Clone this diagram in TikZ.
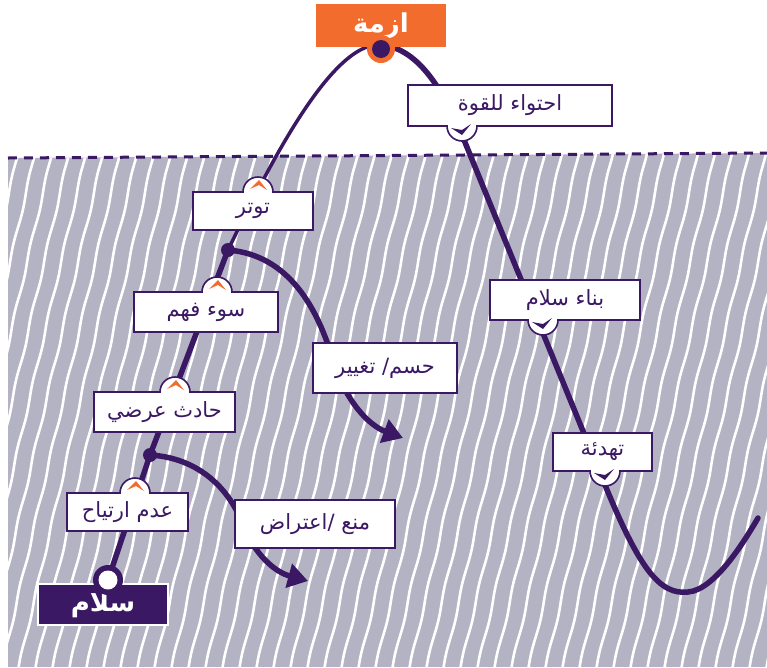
\documentclass[tikz,border=0pt]{standalone}
\usepackage{fontspec}
\usetikzlibrary{arrows.meta,decorations.pathmorphing}
\TeXXeTstate=1
\newfontfamily\arabicfont[Script=Arabic]{DejaVu Sans}
\definecolor{plum}{HTML}{3B1864}
\definecolor{flame}{HTML}{F26D2D}
\definecolor{haze}{HTML}{B3B3C4}
\newcommand{\rtl}[1]{\raisebox{-2.5pt}{\beginR #1\endR}}
\tikzset{
  tagbox/.style={draw=plum, line width=1.6pt, fill=white, text=plum, inner sep=0pt,
    font=\arabicfont\fontsize{21}{24}\selectfont},
  bump/.style={draw=plum, line width=1.6pt, fill=white},
  seam/.style={white, line width=2.6pt},
  spine/.style={plum, line width=5.5pt, line cap=round},
  thinspine/.style={plum, line width=3.5pt, line cap=round},
  branch/.style={plum, line width=5.5pt, line cap=round, -{Triangle[length=20pt,width=24pt]}},
  stripe/.style={white, line width=2.6pt, decorate,
    decoration={snake, amplitude=0.8pt, segment length=70pt}},
  upmark/.style={fill=flame},
  downmark/.style={fill=plum},
}
\begin{document}
\begin{tikzpicture}[x=1pt, y=-1pt]
\useasboundingbox (0,0) rectangle (767,667);

% hatched lower zone
\begin{scope}
  \clip (8,158) -- (767,153) -- (767,667) -- (8,667) -- cycle;
  \fill[haze] (0,140) rectangle (767,667);
  \foreach \i in {-9,...,46}
    \draw[stripe] (\i*17, 675) -- (\i*17+122, 145);
\end{scope}
\draw[plum, line width=3pt, dash pattern=on 9pt off 7pt] (8,158) -- (767,153);

% key points of the path
\coordinate (peace) at (108,580);
\coordinate (forkB) at (150,455);
\coordinate (forkA) at (228,250);
\coordinate (peak)  at (381,45);
\coordinate (down)  at (462,135);
\coordinate (calm)  at (605,485);
\coordinate (low)   at (688,592);
\coordinate (tail)  at (758,518);
\coordinate (endA)  at (403,438);
\coordinate (endB)  at (308,581);

% escalation / de-escalation path
\draw[spine] (peace) .. controls (122,538) and (136,497) .. (forkB)
  .. controls (176,387) and (202,318) .. (forkA);
\draw[thinspine] (forkA) .. controls (262,180) and (330,40) .. (peak);
\draw[spine] (peak) .. controls (420,48) and (445,95) .. (down) -- (calm)
  .. controls (640,570) and (660,595) .. (low)
  .. controls (715,590) and (745,540) .. (tail);

% side branches
\draw[branch] (forkA) .. controls (290,255) and (318,310) .. (333,360)
  .. controls (345,400) and (368,425) .. (endA);
\draw[branch] (forkB) .. controls (200,458) and (230,490) .. (243,525)
  .. controls (255,555) and (275,572) .. (endB);
\fill[plum] (forkA) circle (7pt);
\fill[plum] (forkB) circle (7pt);

% labels on the rising side (tab on top)
\fill[bump] (258,192) circle (15pt);
\fill[bump] (217,292) circle (15pt);
\fill[bump] (175,392) circle (15pt);
\fill[bump] (135,493) circle (15pt);
\node[tagbox, minimum width=120pt, minimum height=38pt] (tension) at (253,211) {\rtl{توتر}};
\node[tagbox, minimum width=144pt, minimum height=40pt] (misread) at (206,312) {\rtl{سوء فهم}};
\node[tagbox, minimum width=141pt, minimum height=40pt] (incident) at (164.5,412) {\rtl{حادث عرضي}};
\node[tagbox, minimum width=121pt, minimum height=38pt] (unease) at (127.5,512) {\rtl{عدم ارتياح}};
\draw[seam] (244,192) -- (272,192);
\draw[seam] (203,292) -- (231,292);
\draw[seam] (161,392) -- (189,392);
\draw[seam] (121,493) -- (149,493);
\fill[upmark] (250,189) -- (259,180) -- (267,190) -- (259,185) -- cycle;
\fill[upmark] (209,289) -- (218,280) -- (226,290) -- (218,285) -- cycle;
\fill[upmark] (167,389) -- (176,380) -- (184,390) -- (176,385) -- cycle;
\fill[upmark] (127,490) -- (136,481) -- (144,491) -- (136,486) -- cycle;

% labels on the falling side (tab below)
\fill[bump] (462,126) circle (15pt);
\fill[bump] (543,320) circle (15pt);
\fill[bump] (605,471) circle (15pt);
\node[tagbox, minimum width=204pt, minimum height=41pt] (contain) at (510,105.5) {\rtl{احتواء للقوة}};
\node[tagbox, minimum width=150pt, minimum height=40pt] (build) at (565,300) {\rtl{بناء سلام}};
\node[tagbox, minimum width=99pt, minimum height=38pt] (soothe) at (602.5,452) {\rtl{تهدئة}};
\draw[seam] (448,126) -- (476,126);
\draw[seam] (529,320) -- (557,320);
\draw[seam] (591,471) -- (619,471);
\fill[downmark] (451,128) -- (462,135) -- (471,124) -- (462,130) -- cycle;
\fill[downmark] (532,322) -- (543,329) -- (552,318) -- (543,324) -- cycle;
\fill[downmark] (594,473) -- (605,480) -- (614,469) -- (605,475) -- cycle;

% branch labels
\node[tagbox, minimum width=144pt, minimum height=50pt] (decide) at (385,368) {\rtl{حسم/ تغيير}};
\node[tagbox, minimum width=160pt, minimum height=48pt] (prevent) at (315,524) {\rtl{منع /اعتراض}};

% crisis at the top
\node[fill=flame, minimum width=130pt, minimum height=43pt, inner sep=0pt, text=white,
  font=\arabicfont\bfseries\fontsize{26}{28}\selectfont] (crisis) at (381,25.5) {\rtl{ازمة}};
\fill[flame] (381,49) circle (14pt);
\fill[plum] (381,49) circle (9pt);

% peace at the bottom
\node[fill=plum, draw=white, line width=1.5pt, minimum width=130pt, minimum height=41pt,
  inner sep=0pt, text=white, font=\arabicfont\bfseries\fontsize{26}{28}\selectfont]
  (calmstate) at (103,604.5) {\rtl{سلام}};
\fill[plum] (peace) circle (15pt);
\fill[white] (peace) circle (9.5pt);
\end{tikzpicture}
\end{document}
